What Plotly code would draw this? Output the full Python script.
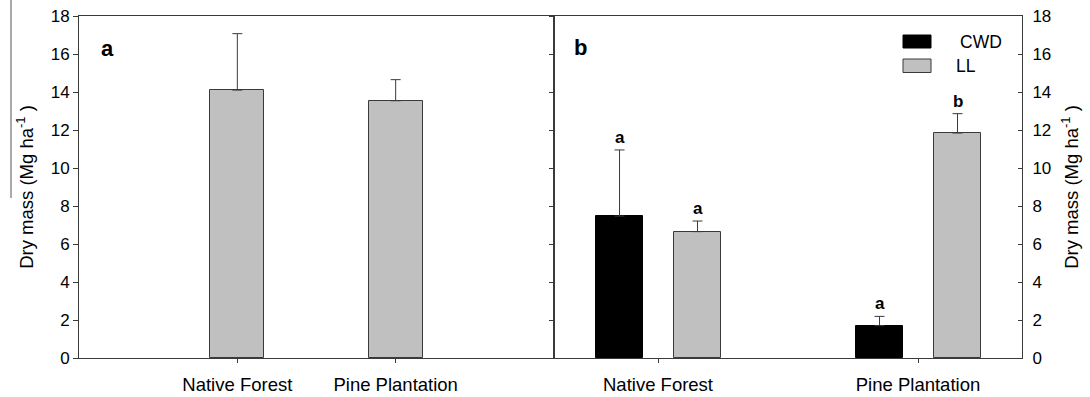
import plotly.graph_objects as go

# ---- data ----
categories = ["Native Forest", "Pine Plantation"]
total_mass = [14.1, 13.54]
total_err = [2.97, 1.11]

series_names = ["CWD", "LL"]
cwd_mass = [7.47, 1.70]
cwd_err = [3.48, 0.49]
ll_mass = [6.65, 11.84]
ll_err = [0.56, 1.02]
cwd_letters = ["a", "a"]
ll_letters = ["a", "b"]

y_ticks = [0, 2, 4, 6, 8, 10, 12, 14, 16, 18]
y_title = "Dry mass (Mg ha<sup>-1</sup> )"

# ---- style ----
W, H = 1090, 397
ML, MR, MT, MB = 79, 68, 16, 39
PW = W - ML - MR
PH = H - MT - MB
split = (554 - ML) / PW
FONT = "Liberation Sans, Arial, sans-serif"
LINE = "#3a3a3a"
GRAY = "#c0c0c0"

def px_x(p):
    return (p - ML) / PW

def px_y(p):
    return (H - MB - p) / PH

xi = list(range(len(categories)))

fig = go.Figure()

err_style = dict(type="data", symmetric=False, color=LINE, thickness=1, width=5)

fig.add_trace(go.Bar(
    x=xi, y=total_mass, xaxis="x", yaxis="y",
    width=0.34, offset=-0.17,
    marker=dict(color=GRAY, line=dict(color=LINE, width=1)),
    error_y=dict(array=total_err, arrayminus=[0] * len(total_err), **err_style),
    showlegend=False,
))

bw = 0.18
offs = [-0.238, 0.062]
fig.add_trace(go.Bar(
    x=xi, y=cwd_mass, xaxis="x2", yaxis="y2", name=series_names[0],
    width=bw, offset=offs[0],
    marker=dict(color="#000000", line=dict(color="#000000", width=1)),
    error_y=dict(array=cwd_err, arrayminus=[0] * len(cwd_err), **err_style),
    showlegend=False,
))
fig.add_trace(go.Bar(
    x=xi, y=ll_mass, xaxis="x2", yaxis="y3", name=series_names[1],
    width=bw, offset=offs[1],
    marker=dict(color=GRAY, line=dict(color=LINE, width=1)),
    error_y=dict(array=ll_err, arrayminus=[0] * len(ll_err), **err_style),
    showlegend=False,
))

annotations = []
# significance letters
for vals, errs, letters, off in [(cwd_mass, cwd_err, cwd_letters, offs[0]),
                                 (ll_mass, ll_err, ll_letters, offs[1])]:
    for i, (v, e, t) in enumerate(zip(vals, errs, letters)):
        annotations.append(dict(
            x=i + off + bw / 2, y=v + e, xref="x2", yref="y2", text=f"<b>{t}</b>",
            showarrow=False, yanchor="bottom", xanchor="center", yshift=1,
            font=dict(family=FONT, size=17, color="#000"),
        ))

# panel letters
annotations.append(dict(x=px_x(99), y=px_y(63), xref="paper", yref="paper", text="<b>a</b>",
                        showarrow=False, xanchor="left", yanchor="bottom",
                        font=dict(family=FONT, size=22, color="#000")))
annotations.append(dict(x=px_x(572), y=px_y(62), xref="paper", yref="paper", text="<b>b</b>",
                        showarrow=False, xanchor="left", yanchor="bottom",
                        font=dict(family=FONT, size=22, color="#000")))

# legend (drawn)
shapes = []
leg_rows = [(series_names[0], "#000000", "#000000", 35, 48, 958),
            (series_names[1], GRAY, LINE, 59, 72.5, 954)]
for name, fill, edge, y0, y1, tx in leg_rows:
    shapes.append(dict(type="rect", xref="paper", yref="paper",
                       x0=px_x(903), x1=px_x(931), y0=px_y(y1), y1=px_y(y0),
                       fillcolor=fill, line=dict(color=edge, width=1)))
    annotations.append(dict(x=px_x(tx), y=px_y((y0 + y1) / 2), xref="paper", yref="paper",
                            text=name, showarrow=False, xanchor="left", yanchor="middle",
                            font=dict(family=FONT, size=17.5, color="#000")))

# stray vertical line near left title
shapes.append(dict(type="line", xref="paper", yref="paper",
                   x0=px_x(11), x1=px_x(11), y0=px_y(0), y1=px_y(198),
                   line=dict(color="#555", width=1)))

tickfont = dict(family=FONT, size=17, color="#000")
xfont = dict(family=FONT, size=18.5, color="#000")
yr = [0, 18]

fig.update_layout(
    width=W, height=H,
    autosize=False,
    margin=dict(l=ML, r=MR, t=MT, b=MB, pad=0, autoexpand=False),
    paper_bgcolor="white", plot_bgcolor="white",
    showlegend=False,
    bargap=0,
    xaxis=dict(domain=[0, split], range=[-1, 2], tickvals=xi, ticktext=categories,
               ticks="outside", ticklen=4, tickcolor=LINE, showline=True, linecolor=LINE,
               linewidth=1, mirror=True, showgrid=False, zeroline=False, tickfont=xfont,
               ticklabelstandoff=6, anchor="y", automargin=False),
    xaxis2=dict(domain=[split, 1], range=[-0.4, 1.4], tickvals=xi, ticktext=categories,
                ticks="outside", ticklen=4, tickcolor=LINE, showline=True, linecolor=LINE,
                linewidth=1, mirror=True, showgrid=False, zeroline=False, tickfont=xfont,
                ticklabelstandoff=6, anchor="y2", automargin=False),
    yaxis=dict(range=yr, tickvals=y_ticks, ticks="outside", ticklen=5, tickcolor=LINE,
               showline=True, linecolor=LINE, linewidth=1, mirror=True, showgrid=False,
               zeroline=False, tickfont=tickfont, anchor="x", automargin=False,
               title=dict(text=y_title, font=dict(family=FONT, size=18.5, color="#000"), standoff=12)),
    yaxis2=dict(range=yr, tickvals=y_ticks, ticks="outside", ticklen=4, tickcolor=LINE,
                showline=True, linecolor=LINE, linewidth=1, showgrid=False, zeroline=False,
                showticklabels=False, anchor="x2", side="left", automargin=False),
    yaxis3=dict(range=yr, tickvals=y_ticks, ticks="inside", ticklen=4, tickcolor=LINE,
                showline=True, linecolor=LINE, linewidth=1, showgrid=False, zeroline=False,
                tickfont=tickfont, anchor="x2", side="right", overlaying="y2",
                ticklabelstandoff=6, automargin=False,
                title=dict(text=y_title, font=dict(family=FONT, size=18.5, color="#000"), standoff=14)),
    annotations=annotations,
    shapes=shapes,
)

fig.write_html("out.html")
